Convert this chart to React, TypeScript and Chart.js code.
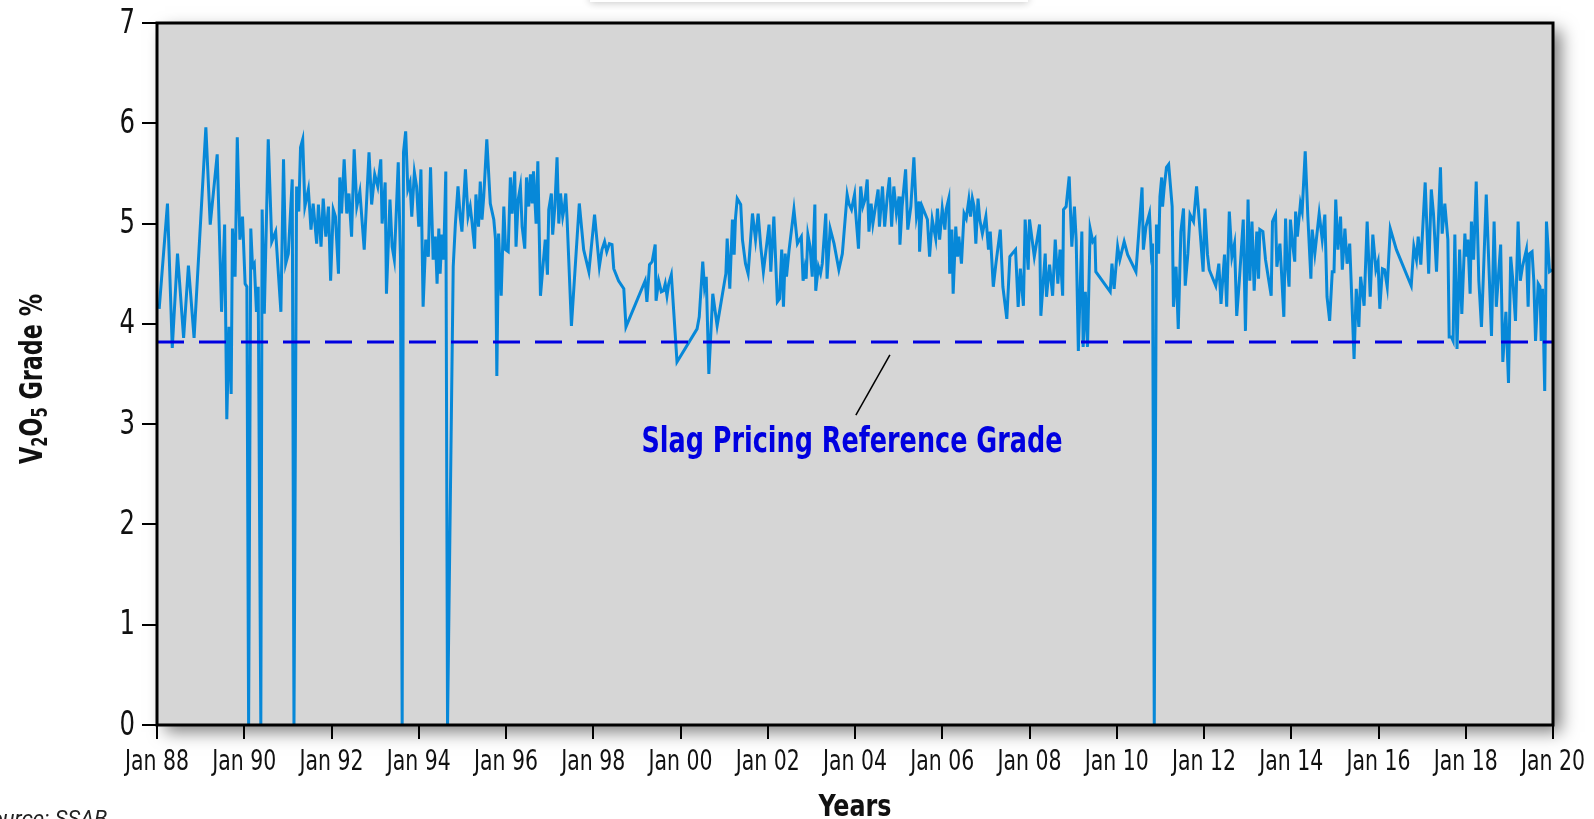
import React, { useEffect, useRef } from 'react';
import { Chart, registerables } from 'chart.js';

Chart.register(...registerables);

// V2O5 grade (%) by date (decimal year)
const grade1988to1994 = [
  [1988.05, 4.15], [1988.24, 5.2], [1988.35, 3.76], [1988.47, 4.7], [1988.61, 3.86], [1988.72, 4.58],
  [1988.85, 3.86], [1989.12, 5.96], [1989.22, 4.99], [1989.38, 5.69], [1989.48, 4.12], [1989.55, 4.99],
  [1989.6, 3.05], [1989.65, 3.97], [1989.7, 3.3], [1989.73, 4.95], [1989.79, 4.47], [1989.84, 5.86],
  [1989.9, 4.84], [1989.96, 5.07], [1990.02, 4.4], [1990.06, 4.37], [1990.1, 0], [1990.15, 4.95],
  [1990.19, 4.57], [1990.23, 4.6], [1990.28, 4.12], [1990.32, 4.37], [1990.38, 0], [1990.41, 5.14],
  [1990.46, 4.1], [1990.55, 5.84], [1990.63, 4.82], [1990.72, 4.92], [1990.84, 4.12], [1990.9, 5.64],
  [1990.95, 4.6], [1991.01, 4.7], [1991.1, 5.44], [1991.14, 0], [1991.2, 5.37], [1991.25, 5.12],
  [1991.29, 5.76], [1991.34, 5.84], [1991.39, 5.17], [1991.47, 5.34], [1991.53, 4.94], [1991.58, 5.2],
  [1991.66, 4.8], [1991.7, 5.19], [1991.76, 4.77], [1991.81, 5.25], [1991.87, 4.87], [1991.93, 5.17],
  [1991.98, 4.43], [1992.04, 5.14], [1992.09, 5.07], [1992.16, 4.5], [1992.19, 5.46], [1992.23, 5.1],
  [1992.29, 5.64], [1992.35, 5.1], [1992.4, 5.3], [1992.46, 4.87], [1992.52, 5.74], [1992.58, 5.17],
  [1992.65, 5.32], [1992.75, 4.74], [1992.86, 5.71], [1992.92, 5.19], [1992.99, 5.49], [1993.06, 5.37],
  [1993.13, 5.64], [1993.16, 5.0], [1993.23, 5.41], [1993.26, 4.3], [1993.34, 5.24], [1993.39, 4.77],
  [1993.44, 4.64], [1993.49, 5.17], [1993.53, 5.61], [1993.58, 4.67], [1993.62, 0], [1993.65, 5.71],
  [1993.7, 5.92], [1993.75, 5.34], [1993.8, 5.41], [1993.84, 5.07], [1993.9, 5.51], [1993.95, 5.37],
  [1994.0, 4.97], [1994.05, 5.54], [1994.1, 4.17], [1994.16, 4.84], [1994.22, 4.67], [1994.27, 5.56],
  [1994.33, 4.64],
];

const grade1994to2000 = [
  [1994.38, 4.87], [1994.42, 4.4], [1994.46, 4.95], [1994.49, 4.5], [1994.53, 4.89], [1994.57, 4.64],
  [1994.62, 5.52], [1994.66, 0], [1994.79, 4.57], [1994.84, 5.0], [1994.9, 5.37], [1994.95, 5.07],
  [1994.99, 4.92], [1995.07, 5.54], [1995.13, 5.07], [1995.18, 5.17], [1995.22, 5.02], [1995.28, 4.75],
  [1995.31, 5.29], [1995.37, 4.97], [1995.41, 5.42], [1995.45, 5.04], [1995.49, 5.27], [1995.56, 5.84],
  [1995.64, 5.2], [1995.72, 5.04], [1995.76, 4.84], [1995.79, 3.48], [1995.83, 4.9], [1995.89, 4.28],
  [1995.95, 5.17], [1995.99, 4.74], [1996.05, 4.72], [1996.1, 5.46], [1996.14, 5.1], [1996.2, 5.52],
  [1996.23, 4.77], [1996.28, 5.24], [1996.33, 5.37], [1996.37, 4.97], [1996.43, 4.75], [1996.47, 5.46],
  [1996.52, 5.17], [1996.56, 5.49], [1996.6, 5.2], [1996.63, 5.52], [1996.69, 5.0], [1996.73, 5.62],
  [1996.79, 4.28], [1996.86, 4.64], [1996.9, 4.84], [1996.95, 4.49], [1996.98, 5.14], [1997.04, 5.3],
  [1997.07, 4.89], [1997.12, 5.17], [1997.17, 5.66], [1997.21, 5.0], [1997.25, 5.3], [1997.3, 5.07],
  [1997.34, 5.17], [1997.37, 5.3], [1997.4, 5.05], [1997.5, 3.98], [1997.68, 5.2], [1997.78, 4.74],
  [1997.9, 4.52], [1998.03, 5.09], [1998.14, 4.57], [1998.2, 4.74], [1998.26, 4.82], [1998.31, 4.72],
  [1998.37, 4.8], [1998.43, 4.79], [1998.47, 4.55], [1998.58, 4.43], [1998.7, 4.35], [1998.75, 3.97],
  [1999.19, 4.43], [1999.23, 4.22], [1999.29, 4.59], [1999.35, 4.62], [1999.42, 4.79], [1999.44, 4.23],
  [1999.5, 4.43], [1999.56, 4.32], [1999.61, 4.33], [1999.65, 4.4], [1999.69, 4.28], [1999.73, 4.4],
  [1999.79, 4.49], [1999.92, 3.62], [2000.38, 3.95], [2000.43, 4.07], [2000.51, 4.62], [2000.55, 4.37],
  [2000.59, 4.47], [2000.65, 3.5],
];

const grade2000to2007 = [
  [2000.74, 4.3], [2000.84, 3.98], [2001.04, 4.5], [2001.07, 4.85], [2001.13, 4.35], [2001.19, 5.04],
  [2001.23, 4.69], [2001.26, 5.05], [2001.3, 5.25], [2001.38, 5.19], [2001.42, 4.84], [2001.49, 4.6],
  [2001.55, 4.5], [2001.65, 5.1], [2001.72, 4.84], [2001.78, 5.1], [2001.84, 4.77], [2001.9, 4.52],
  [2001.97, 4.77], [2002.03, 4.99], [2002.07, 4.52], [2002.14, 5.07], [2002.22, 4.22], [2002.27, 4.25],
  [2002.32, 4.74], [2002.36, 4.17], [2002.4, 4.7], [2002.43, 4.47], [2002.49, 4.74], [2002.6, 5.14],
  [2002.68, 4.8], [2002.73, 4.84], [2002.77, 4.87], [2002.81, 4.43], [2002.85, 4.55], [2002.88, 4.45],
  [2002.92, 4.89], [2002.97, 4.77], [2003.02, 4.47], [2003.08, 5.19], [2003.1, 4.33], [2003.16, 4.57],
  [2003.21, 4.5], [2003.25, 4.6], [2003.33, 5.1], [2003.36, 4.45], [2003.43, 4.95], [2003.52, 4.8],
  [2003.63, 4.54], [2003.71, 4.7], [2003.82, 5.29], [2003.86, 5.2], [2003.92, 5.14], [2003.99, 5.29],
  [2004.01, 5.14], [2004.08, 4.75], [2004.13, 5.37], [2004.18, 5.17], [2004.23, 5.24], [2004.28, 5.44],
  [2004.32, 4.92], [2004.37, 5.2], [2004.41, 5.0], [2004.47, 5.17], [2004.53, 5.34], [2004.56, 4.97],
  [2004.63, 5.37], [2004.68, 4.97], [2004.74, 5.27], [2004.79, 5.46], [2004.84, 4.97], [2004.89, 5.37],
  [2004.95, 5.1], [2005.01, 5.27], [2005.03, 4.79], [2005.08, 5.17], [2005.16, 5.54], [2005.21, 4.94],
  [2005.28, 5.17], [2005.35, 5.66], [2005.41, 5.07], [2005.47, 5.22], [2005.48, 4.72], [2005.54, 5.17],
  [2005.66, 5.04], [2005.71, 4.67], [2005.77, 5.04], [2005.85, 4.85], [2005.89, 5.15], [2005.94, 4.84],
  [2006.0, 5.15], [2006.06, 4.94], [2006.09, 5.14], [2006.15, 5.25], [2006.17, 4.5], [2006.22, 4.94],
  [2006.25, 4.3], [2006.31, 4.97], [2006.35, 4.67], [2006.38, 4.87], [2006.44, 4.6], [2006.5, 5.1],
  [2006.55, 5.05], [2006.61, 5.24], [2006.65, 5.07], [2006.69, 5.25], [2006.73, 5.17], [2006.77, 4.8],
  [2006.82, 5.25], [2006.86, 5.04], [2006.92, 4.9], [2007.0, 5.07], [2007.06, 4.74],
];

const grade2007to2013 = [
  [2007.1, 4.92], [2007.17, 4.37], [2007.23, 4.6], [2007.33, 4.94], [2007.39, 4.37], [2007.48, 4.05],
  [2007.55, 4.67], [2007.68, 4.74], [2007.74, 4.17], [2007.79, 4.55], [2007.86, 4.18], [2007.9, 5.04],
  [2007.97, 4.54], [2008.0, 5.04], [2008.11, 4.67], [2008.23, 4.99], [2008.26, 4.08], [2008.36, 4.7],
  [2008.39, 4.27], [2008.46, 4.59], [2008.53, 4.28], [2008.59, 4.84], [2008.65, 4.4], [2008.7, 4.74],
  [2008.76, 4.28], [2008.78, 5.14], [2008.84, 5.17], [2008.91, 5.47], [2008.97, 4.77], [2009.03, 5.17],
  [2009.07, 4.84], [2009.12, 3.73], [2009.2, 4.92], [2009.23, 3.77], [2009.28, 4.32], [2009.33, 3.77],
  [2009.39, 4.95], [2009.45, 4.82], [2009.5, 4.85], [2009.52, 4.52], [2009.85, 4.32], [2009.89, 4.6],
  [2009.94, 4.35], [2010.02, 4.77], [2010.07, 4.64], [2010.17, 4.82], [2010.25, 4.69], [2010.44, 4.52],
  [2010.58, 5.36], [2010.61, 4.74], [2010.67, 4.97], [2010.75, 5.1], [2010.79, 4.72], [2010.82, 4.8],
  [2010.86, 0], [2010.91, 4.99], [2010.96, 4.7], [2010.99, 5.27], [2011.03, 5.46], [2011.05, 5.17],
  [2011.09, 5.37], [2011.14, 5.56], [2011.19, 5.59], [2011.27, 5.17], [2011.3, 4.17], [2011.36, 4.57],
  [2011.41, 3.95], [2011.47, 4.92], [2011.53, 5.15], [2011.57, 4.38], [2011.63, 4.7], [2011.68, 5.09],
  [2011.76, 5.02], [2011.83, 5.37], [2011.89, 5.04], [2011.98, 4.52], [2012.02, 5.15], [2012.08, 4.69],
  [2012.12, 4.54], [2012.27, 4.38], [2012.34, 4.6], [2012.39, 4.2], [2012.47, 4.69], [2012.52, 4.17],
  [2012.58, 5.12], [2012.64, 4.67], [2012.7, 4.8], [2012.75, 4.08], [2012.81, 4.43], [2012.9, 5.04],
  [2012.95, 3.93], [2013.01, 5.24], [2013.05, 4.43], [2013.1, 5.02], [2013.15, 4.33], [2013.21, 4.92],
  [2013.25, 4.45], [2013.28, 4.94],
];

const grade2013to2020 = [
  [2013.35, 4.92], [2013.41, 4.64], [2013.54, 4.28], [2013.57, 5.02], [2013.64, 5.09], [2013.67, 4.57],
  [2013.74, 4.8], [2013.77, 4.57], [2013.83, 4.07], [2013.87, 5.05], [2013.9, 4.64], [2013.95, 4.37],
  [2013.98, 5.04], [2014.03, 4.8], [2014.08, 4.62], [2014.1, 5.12], [2014.14, 4.87], [2014.21, 5.2],
  [2014.25, 5.12], [2014.32, 5.72], [2014.38, 5.07], [2014.45, 4.45], [2014.48, 4.94], [2014.54, 4.7],
  [2014.64, 5.1], [2014.71, 4.84], [2014.77, 5.09], [2014.82, 4.27], [2014.88, 4.03], [2014.94, 4.52],
  [2014.98, 4.52], [2015.02, 5.24], [2015.07, 4.74], [2015.13, 5.07], [2015.17, 4.54], [2015.23, 4.95],
  [2015.28, 4.6], [2015.34, 4.8], [2015.44, 3.65], [2015.49, 4.35], [2015.55, 3.97], [2015.59, 4.47],
  [2015.67, 4.18], [2015.74, 5.02], [2015.81, 4.27], [2015.87, 4.89], [2015.94, 4.54], [2015.99, 4.62],
  [2016.03, 4.15], [2016.09, 4.55], [2016.14, 4.54], [2016.2, 4.37], [2016.27, 4.95], [2016.41, 4.74],
  [2016.75, 4.38], [2016.81, 4.77], [2016.87, 4.64], [2016.91, 4.87], [2016.97, 4.59], [2017.07, 5.41],
  [2017.15, 4.5], [2017.21, 5.34], [2017.26, 5.1], [2017.33, 4.52], [2017.42, 5.56], [2017.46, 4.9],
  [2017.52, 5.2], [2017.59, 4.84], [2017.62, 3.87], [2017.67, 3.87], [2017.71, 3.83], [2017.75, 4.89],
  [2017.8, 3.75], [2017.86, 4.74], [2017.91, 4.1], [2017.98, 4.9], [2018.01, 4.67], [2018.05, 4.84],
  [2018.1, 4.3], [2018.13, 5.02], [2018.18, 4.64], [2018.24, 5.42], [2018.3, 4.43], [2018.36, 3.97],
  [2018.4, 4.43], [2018.47, 5.29], [2018.59, 3.88], [2018.65, 5.02], [2018.7, 4.17], [2018.8, 4.79],
  [2018.85, 3.62], [2018.92, 4.12], [2018.98, 3.41], [2019.03, 4.67], [2019.08, 4.43], [2019.14, 4.03],
  [2019.2, 5.02], [2019.25, 4.43], [2019.3, 4.57], [2019.39, 4.74], [2019.43, 4.17], [2019.46, 4.7],
  [2019.52, 4.72], [2019.56, 4.43], [2019.6, 3.83], [2019.66, 4.4], [2019.7, 4.37], [2019.73, 3.83],
  [2019.76, 4.35], [2019.81, 3.33], [2019.85, 5.02], [2019.92, 4.52], [2019.98, 4.54],
];

const referenceGrade = 3.82;
const referenceSpan = [1988, 2020];
const xTickYears = [1988, 1990, 1992, 1994, 1996, 1998, 2000, 2002, 2004, 2006, 2008, 2010, 2012, 2014, 2016, 2018, 2020];
const yTickValues = [0, 1, 2, 3, 4, 5, 6, 7];
const xAxisTitle = 'Years';
const yAxisTitleParts: [string, boolean][] = [['V', false], ['2', true], ['O', false], ['5', true], [' Grade %', false]];
const annotationText = 'Slag Pricing Reference Grade';
const sourceText = 'Source: SSAB';

const COND = "'DejaVu Sans Condensed', 'Liberation Sans Narrow', 'DejaVu Sans', sans-serif";
const LINE_BLUE = '#0788d8';
const REF_BLUE = '#0000e0';
const TEXT = '#111111';

function fmtYear(v: number) {
  return 'Jan ' + String(Math.round(v) % 100).padStart(2, '0');
}

// draw text horizontally compressed so that `sample` measures `sampleWidth`
function squeeze(ctx: CanvasRenderingContext2D, font: string, sample: string, sampleWidth: number) {
  ctx.font = font;
  return sampleWidth / ctx.measureText(sample).width;
}

function drawSqueezed(
  ctx: CanvasRenderingContext2D, text: string, x: number, y: number, font: string, sx: number,
  align: CanvasTextAlign, baseline: CanvasTextBaseline, color: string,
) {
  ctx.save();
  ctx.translate(x, y);
  ctx.scale(sx, 1);
  ctx.font = font;
  ctx.textAlign = align;
  ctx.textBaseline = baseline;
  ctx.fillStyle = color;
  ctx.fillText(text, 0, 0);
  ctx.restore();
}

export default function App() {
  const ref = useRef<HTMLCanvasElement | null>(null);

  useEffect(() => {
    if (!ref.current) return;
    const series = [...grade1988to1994, ...grade1994to2000, ...grade2000to2007, ...grade2007to2013, ...grade2013to2020]
      .map(([x, y]) => ({ x, y }));

    const decor = {
      id: 'decor',
      beforeDraw(chart: any) {
        const { ctx, chartArea: a } = chart;
        ctx.save();
        ctx.shadowColor = 'rgba(0,0,0,0.22)';
        ctx.shadowBlur = 8;
        ctx.shadowOffsetY = 1;
        ctx.fillStyle = '#ffffff';
        ctx.fillRect(590, -40, 438, 42);
        ctx.shadowColor = 'rgba(0,0,0,0.5)';
        ctx.shadowBlur = 16;
        ctx.shadowOffsetX = 8;
        ctx.shadowOffsetY = 7;
        ctx.fillStyle = '#d6d6d6';
        ctx.fillRect(a.left, a.top, a.width, a.height);
        ctx.restore();
      },
      afterDatasetsDraw(chart: any) {
        const { ctx, chartArea: a, scales } = chart;
        const xs = scales.x, ys = scales.y;
        ctx.save();
        // frame
        ctx.strokeStyle = '#000';
        ctx.lineWidth = 3;
        ctx.strokeRect(a.left, a.top, a.width, a.height);
        // leader line
        ctx.lineWidth = 1.5;
        ctx.beginPath();
        ctx.moveTo(xs.getPixelForValue(2004.8), ys.getPixelForValue(3.69));
        ctx.lineTo(xs.getPixelForValue(2004.02), ys.getPixelForValue(3.09));
        ctx.stroke();
        ctx.restore();

        // annotation
        const annFont = `bold 35px ${COND}`;
        const annSx = squeeze(ctx, annFont, annotationText, 421);
        drawSqueezed(ctx, annotationText, xs.getPixelForValue(2003.93), ys.getPixelForValue(2.72),
          annFont, annSx, 'center', 'alphabetic', REF_BLUE);

        // x tick labels
        const xFont = `28px ${COND}`;
        const xSx = squeeze(ctx, xFont, 'Jan 88', 64);
        for (const v of xTickYears) {
          drawSqueezed(ctx, fmtYear(v), xs.getPixelForValue(v), a.bottom + 45, xFont, xSx, 'center', 'alphabetic', TEXT);
        }
        // y tick labels
        const yFont = `33px ${COND}`;
        const ySx = squeeze(ctx, yFont, '0', 15.5);
        for (const v of yTickValues) {
          drawSqueezed(ctx, String(v), a.left - 22, ys.getPixelForValue(v) + 1, yFont, ySx, 'right', 'middle', TEXT);
        }
        // x title
        const tFont = `bold 31px ${COND}`;
        const tSx = squeeze(ctx, tFont, xAxisTitle, 73);
        drawSqueezed(ctx, xAxisTitle, (a.left + a.right) / 2, a.bottom + 91, tFont, tSx, 'center', 'alphabetic', TEXT);

        // y title with subscripts
        const big = `bold 32px ${COND}`;
        const small = `bold 21px ${COND}`;
        let total = 0;
        for (const [t, sub] of yAxisTitleParts) {
          ctx.font = sub ? small : big;
          total += ctx.measureText(t).width;
        }
        const ySq = 170 / total;
        ctx.save();
        ctx.translate(42, 379);
        ctx.rotate(-Math.PI / 2);
        ctx.scale(ySq, 1);
        ctx.fillStyle = TEXT;
        ctx.textAlign = 'left';
        ctx.textBaseline = 'alphabetic';
        let cx = -total / 2;
        for (const [t, sub] of yAxisTitleParts) {
          ctx.font = sub ? small : big;
          ctx.fillText(t, cx, sub ? 5 : 0);
          cx += ctx.measureText(t).width;
        }
        ctx.restore();

        // source
        ctx.save();
        ctx.fillStyle = '#222';
        ctx.font = `italic 22px 'Roboto', sans-serif`;
        ctx.textAlign = 'left';
        ctx.textBaseline = 'alphabetic';
        ctx.fillText(sourceText, -22, 826);
        ctx.restore();
      },
    };

    const chart = new Chart(ref.current, {
      type: 'line',
      data: {
        datasets: [
          {
            label: 'Reference',
            data: referenceSpan.map((x) => ({ x, y: referenceGrade })),
            borderColor: REF_BLUE,
            borderWidth: 3,
            borderDash: [27, 15],
            pointRadius: 0,
            fill: false,
          },
          {
            label: 'V2O5',
            data: series,
            borderColor: LINE_BLUE,
            borderWidth: 3,
            pointRadius: 0,
            tension: 0,
            fill: false,
          },
        ],
      },
      options: {
        animation: false,
        responsive: false,
        events: [],
        layout: { padding: { left: 0, right: 41, top: 23, bottom: 0 } },
        plugins: { legend: { display: false }, tooltip: { enabled: false }, title: { display: false } },
        scales: {
          x: {
            type: 'linear',
            min: 1988,
            max: 2020,
            afterBuildTicks: (s: any) => { s.ticks = xTickYears.map((v) => ({ value: v })); },
            afterFit: (s: any) => { s.height = 94; },
            border: { display: false },
            grid: { drawOnChartArea: false, drawTicks: true, tickLength: 14, color: '#000', lineWidth: 2 },
            ticks: { display: false },
          },
          y: {
            type: 'linear',
            min: 0,
            max: 7,
            afterBuildTicks: (s: any) => { s.ticks = yTickValues.map((v) => ({ value: v })); },
            afterFit: (s: any) => { s.width = 157; },
            border: { display: false },
            grid: { drawOnChartArea: false, drawTicks: true, tickLength: 15, color: '#000', lineWidth: 2 },
            ticks: { display: false },
          },
        },
      },
      plugins: [decor],
    } as any);

    return () => chart.destroy();
  }, []);

  return (
    <div style={{ position: 'fixed', left: 0, top: 0, width: 1594, height: 819, background: '#fff' }}>
      <canvas ref={ref} width={1594} height={819} style={{ display: 'block', width: 1594, height: 819 }} />
    </div>
  );
}
